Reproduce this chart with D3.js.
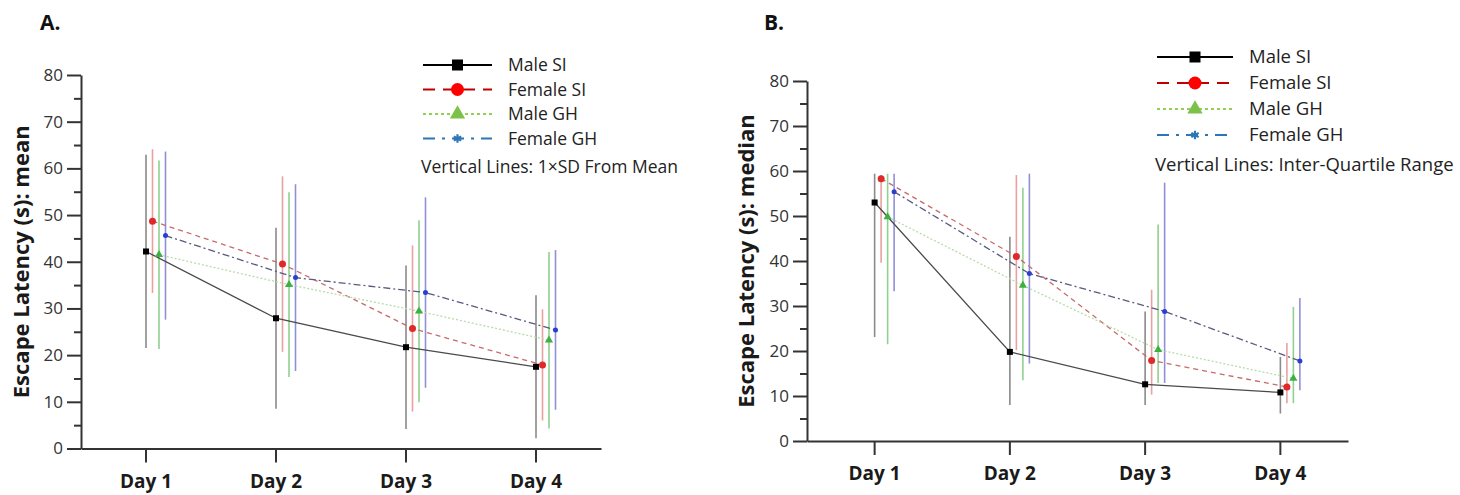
<!DOCTYPE html>
<html>
<head>
<meta charset="utf-8">
<script src="https://cdn.jsdelivr.net/npm/d3@7"></script>
<style>
  body { margin: 0; background: #fff; }
  svg { display: block; font-family: "Open Sans", sans-serif; }
</style>
</head>
<body>
<script>
// Categories
const days = ["Day 1", "Day 2", "Day 3", "Day 4"];
const seriesNames = ["Male SI", "Female SI", "Male GH", "Female GH"];
const yTicks = [0, 10, 20, 30, 40, 50, 60, 70, 80];

// Panel A: mean and 1xSD
const meanMaleSI = [42.2, 27.9, 21.7, 17.5];
const sdMaleSI = [20.7, 19.4, 17.5, 15.3];
const meanFemaleSI = [48.7, 39.5, 25.7, 17.9];
const sdFemaleSI = [15.4, 18.8, 17.8, 11.9];
const meanMaleGH = [41.5, 35.1, 29.4, 23.2];
const sdMaleGH = [20.2, 19.8, 19.5, 18.9];
const meanFemaleGH = [45.6, 36.6, 33.4, 25.4];
const sdFemaleGH = [18.0, 20.0, 20.4, 17.1];

// Panel B: median with inter-quartile range
const medianMaleSI = [53.0, 19.8, 12.6, 10.8];
const q1MaleSI = [23.1, 8.0, 8.0, 6.1];
const q3MaleSI = [59.4, 45.4, 28.8, 18.7];
const medianFemaleSI = [58.3, 41.0, 17.9, 12.0];
const q1FemaleSI = [39.6, 20.2, 10.3, 8.4];
const q3FemaleSI = [59.1, 59.1, 33.6, 21.8];
const medianMaleGH = [49.8, 34.6, 20.3, 13.9];
const q1MaleGH = [21.5, 13.5, 12.9, 8.4];
const q3MaleGH = [59.4, 56.3, 48.1, 29.8];
const medianFemaleGH = [55.4, 37.2, 28.8, 17.8];
const q1FemaleGH = [33.3, 17.2, 12.9, 11.3];
const q3FemaleGH = [59.4, 59.4, 57.4, 31.8];

// look of each series (chart + legend)
const styles = [
  { line: "#4a4a4a", dash: null, bar: "#8a8a8a", mark: "#000", shape: "square",
    legLine: "#000", legDash: null, legMark: "#000" },
  { line: "#c86a6a", dash: "5,4", bar: "#e8a0a0", mark: "#e02a2a", shape: "circle",
    legLine: "#c00000", legDash: "12,8", legMark: "#ff0000" },
  { line: "#b8dca8", dash: "2,2", bar: "#90d090", mark: "#3cb043", shape: "triangle",
    legLine: "#92d050", legDash: "3,3", legMark: "#7cc24a" },
  { line: "#5a5a80", dash: "7,3,2,3", bar: "#9090d8", mark: "#2a3ed0", shape: "dot",
    legLine: "#2e75b6", legDash: "12,7,3,7", legMark: "#2e75b6" }
];

const svg = d3.select("body").append("svg")
  .attr("width", 1460).attr("height", 495);

// build series rows for panel A
const panelA = [
  [meanMaleSI, sdMaleSI], [meanFemaleSI, sdFemaleSI],
  [meanMaleGH, sdMaleGH], [meanFemaleGH, sdFemaleGH]
].map(([m, s], i) => ({
  name: seriesNames[i],
  pts: days.map((d, j) => ({ day: d, c: m[j], lo: m[j] - s[j], hi: m[j] + s[j] }))
}));

const panelB = [
  [medianMaleSI, q1MaleSI, q3MaleSI], [medianFemaleSI, q1FemaleSI, q3FemaleSI],
  [medianMaleGH, q1MaleGH, q3MaleGH], [medianFemaleGH, q1FemaleGH, q3FemaleGH]
].map(([m, lo, hi], i) => ({
  name: seriesNames[i],
  pts: days.map((d, j) => ({ day: d, c: m[j], lo: lo[j], hi: hi[j] }))
}));

drawPanel({
  data: panelA, letter: "A.", letterX: 40,
  x0: 81, x1: 601, y0: 448.5, y1: 75, offset: 6.5,
  yTitle: "Escape Latency (s): mean", titleX: 20,
  legX: 423, legW: 69, legY: 65, legStep: 24.5, legFont: 17.5,
  note: "Vertical Lines: 1\u00d7SD From Mean"
});

drawPanel({
  data: panelB, letter: "B.", letterX: 764,
  x0: 807, x1: 1348, y0: 441, y1: 81, offset: 6.5,
  yTitle: "Escape Latency (s): median", titleX: 745,
  legX: 1157, legW: 76, legY: 57, legStep: 26, legFont: 18.5,
  note: "Vertical Lines: Inter-Quartile Range"
});

function marker(sel, shape, color, size) {
  if (shape === "square") {
    sel.append("rect").attr("x", -size / 2).attr("y", -size / 2)
      .attr("width", size).attr("height", size).attr("fill", color);
  } else if (shape === "triangle") {
    sel.append("path").attr("d", d3.symbol(d3.symbolTriangle, size * size * 0.45)()).attr("fill", color);
  } else if (shape === "star") {
    sel.append("path").attr("d", d3.symbol(d3.symbolAsterisk, size * size * 0.5)())
      .attr("stroke", color).attr("stroke-width", 2.2).attr("fill", "none");
  } else {
    // circle and small dot
    sel.append("circle").attr("r", size / 2).attr("fill", color);
  }
}

function drawPanel(cfg) {
  const g = svg.append("g");

  const x = d3.scaleBand().domain(days).range([cfg.x0, cfg.x1]);
  const y = d3.scaleLinear().domain([0, 80]).range([cfg.y0, cfg.y1]);
  const px = (d, i) => x(d.day) + x.bandwidth() / 2 + i * cfg.offset;

  // minor y ticks
  g.append("g").attr("transform", `translate(${cfg.x0},0)`)
    .call(d3.axisLeft(y).tickValues(d3.range(5, 80, 10)).tickSize(7).tickFormat("").tickSizeOuter(0))
    .call(a => a.select(".domain").remove())
    .call(a => a.selectAll("line").attr("stroke", "#333").attr("stroke-width", 2));

  // y axis
  g.append("g").attr("transform", `translate(${cfg.x0},0)`)
    .call(d3.axisLeft(y).tickValues(yTicks).tickSize(14).tickPadding(4).tickSizeOuter(0))
    .call(a => a.select(".domain").attr("stroke", "#333").attr("stroke-width", 2))
    .call(a => a.selectAll("line").attr("stroke", "#333").attr("stroke-width", 2))
    .call(a => a.selectAll("text").attr("font-size", 17).attr("fill", "#333")
      .attr("font-family", "Open Sans, sans-serif"));

  // x axis
  g.append("g").attr("transform", `translate(0,${cfg.y0})`)
    .call(d3.axisBottom(x).tickSize(14).tickPadding(12).tickSizeOuter(0))
    .call(a => a.select(".domain").attr("stroke", "#333").attr("stroke-width", 2))
    .call(a => a.selectAll("line").attr("stroke", "#333").attr("stroke-width", 2))
    .call(a => a.selectAll("text").attr("font-size", 19).attr("font-weight", "bold")
      .attr("fill", "#1a1a1a").attr("font-family", "Open Sans, sans-serif"));

  // error bars
  cfg.data.forEach((s, i) => {
    g.append("g").selectAll("line").data(s.pts).join("line")
      .attr("x1", d => px(d, i)).attr("x2", d => px(d, i))
      .attr("y1", d => y(d.lo)).attr("y2", d => y(d.hi))
      .attr("stroke", styles[i].bar).attr("stroke-width", 1.6);
  });

  // connecting lines
  cfg.data.forEach((s, i) => {
    const line = d3.line().x(d => px(d, i)).y(d => y(d.c));
    g.append("path").datum(s.pts).attr("d", line)
      .attr("fill", "none").attr("stroke", styles[i].line)
      .attr("stroke-width", 1.3)
      .attr("stroke-dasharray", styles[i].dash);
  });

  // markers
  const sizes = [6, 7, 8, 5];
  cfg.data.forEach((s, i) => {
    g.append("g").selectAll("g").data(s.pts).join("g")
      .attr("transform", d => `translate(${px(d, i)},${y(d.c)})`)
      .each(function () { marker(d3.select(this), styles[i].shape, styles[i].mark, sizes[i]); });
  });

  // y title
  g.append("text")
    .attr("transform", `translate(${cfg.titleX},${(cfg.y0 + cfg.y1) / 2}) rotate(-90)`)
    .attr("text-anchor", "middle").attr("dominant-baseline", "central")
    .attr("font-size", 22).attr("font-weight", "bold").attr("fill", "#1a1a1a")
    .text(cfg.yTitle);

  // panel letter
  g.append("text").attr("x", cfg.letterX).attr("y", 30)
    .attr("font-size", 21).attr("font-weight", "bold").attr("fill", "#111")
    .text(cfg.letter);

  // legend
  const leg = g.append("g");
  const legShapes = ["square", "circle", "triangle", "star"];
  const legSizes = [11, 13, 15, 10];
  seriesNames.forEach((name, i) => {
    const ly = cfg.legY + i * cfg.legStep;
    const row = leg.append("g").attr("transform", `translate(${cfg.legX},${ly})`);
    row.append("line").attr("x1", 0).attr("x2", cfg.legW)
      .attr("stroke", styles[i].legLine).attr("stroke-width", 2.2)
      .attr("stroke-dasharray", styles[i].legDash);
    const m = row.append("g").attr("transform", `translate(${cfg.legW / 2},0)`);
    marker(m, legShapes[i], styles[i].legMark, legSizes[i]);
    row.append("text").attr("x", cfg.legW + 16).attr("dy", "0.35em")
      .attr("font-size", cfg.legFont).attr("fill", "#222").text(name);
  });
  leg.append("text").attr("x", cfg.legX - 2).attr("y", cfg.legY + 4 * cfg.legStep + 4)
    .attr("dy", "0.35em").attr("font-size", cfg.legFont).attr("fill", "#222").text(cfg.note);
}
</script>
</body>
</html>
